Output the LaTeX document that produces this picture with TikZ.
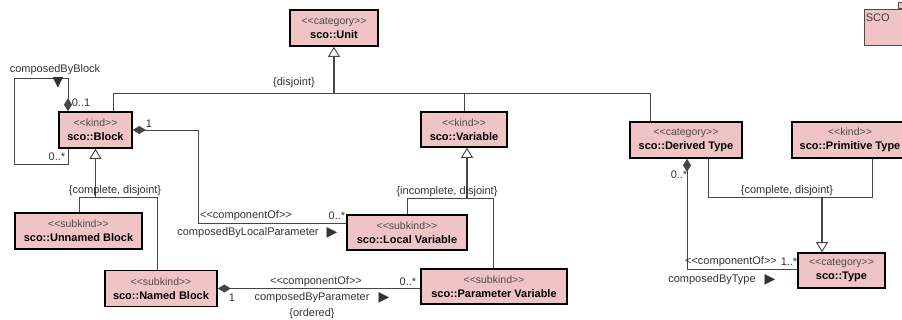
\documentclass[tikz,border=0pt]{standalone}
\usepackage{fontspec}
\setmainfont{Liberation Sans}
\newfontfamily\symfont{DejaVu Sans}
\usetikzlibrary{calc,positioning,arrows.meta}
\definecolor{classfill}{RGB}{240,196,196}
\definecolor{linegray}{RGB}{70,70,70}
\newcommand{\stereo}[1]{{\mdseries\color{black!70}\fontsize{10.5}{12}\selectfont <{}<#1>{}>}}
\newcommand{\dirtri}{{\symfont\fontsize{14}{14}\selectfont ▶}}
\tikzset{
  umlclass/.style={
    draw,
    rectangle,
    fill=classfill,
    line width=1.6pt,
    align=center,
    inner sep=0pt,
    font=\fontsize{11}{14}\selectfont\bfseries,
  },
  pkg/.style={
    draw=black!70,
    rectangle,
    fill=classfill,
    line width=0.6pt,
  },
  conn/.style={draw=linegray, line width=0.8pt},
  gen/.style={conn, line width=1.6pt, -{Triangle[open, width=12pt, length=10pt, line width=0.9pt]}},
  comp/.style={conn, {Diamond[width=8pt, length=13pt]}-},
  lbl/.style={text=black!80, font=\fontsize{11}{13}\selectfont, inner sep=0pt},
}
\begin{document}
\begin{tikzpicture}[x=1pt, y=-1pt]
  \useasboundingbox[fill=white] (0,0) rectangle (902,320);
  \clip (0,0) rectangle (902,320);

  % classes
  \node[umlclass, minimum width=88pt, minimum height=36pt] (unit) at (334,28) {\stereo{category}\\sco::Unit};
  \node[umlclass, minimum width=73pt, minimum height=36pt] (block) at (95.5,130) {\stereo{kind}\\sco::Block};
  \node[umlclass, minimum width=86pt, minimum height=35pt] (variable) at (464,129.5) {\stereo{kind}\\sco::Variable};
  \node[umlclass, minimum width=112pt, minimum height=36pt] (derived) at (686,140) {\stereo{category}\\sco::Derived Type};
  \node[umlclass, minimum width=116pt, minimum height=36pt] (primitive) at (850,140) {\stereo{kind}\\sco::Primitive Type};
  \node[umlclass, minimum width=127pt, minimum height=36pt] (unnamed) at (78.5,231) {\stereo{subkind}\\sco::Unnamed Block};
  \node[umlclass, minimum width=112pt, minimum height=36pt] (named) at (161,288.5) {\stereo{subkind}\\sco::Named Block};
  \node[umlclass, minimum width=120pt, minimum height=35pt] (localvar) at (407,232.5) {\stereo{subkind}\\sco::Local Variable};
  \node[umlclass, minimum width=146pt, minimum height=35pt] (paramvar) at (494,286.5) {\stereo{subkind}\\sco::Parameter Variable};
  \node[umlclass, minimum width=87pt, minimum height=35pt] (type) at (841.5,270.5) {\stereo{category}\\sco::Type};

  % package icon
  \node[pkg, minimum width=48pt, minimum height=36pt] (scopkg) at (888,27) {};
  \node[pkg, minimum width=8pt, minimum height=6pt, anchor=south west] (scotab) at (898,9) {};
  \node[lbl, anchor=north west, text=black!75] (sconame) at (scopkg.north west) [xshift=2pt, yshift=-5pt] {SCO};

  % generalization of sco::Unit
  \coordinate (unitleft) at (113,93);
  \coordinate (unitright) at (650,93);
  \coordinate (unitjoin) at (334,93);
  \draw[conn] (block.north -| unitleft) -- (unitleft) -- (unitright) -- (derived.north -| unitright);
  \draw[conn] (variable.north) -- (variable.north |- unitleft);
  \draw[gen] (unitjoin) -- (unit.south);
  \node[lbl] (unitset) at (294,83) {\{disjoint\}};

  % generalization of sco::Block
  \coordinate (blockleft) at (79,197);
  \coordinate (blockright) at (157,197);
  \coordinate (blockjoin) at (95.5,197);
  \draw[conn] (unnamed.north -| blockleft) -- (blockleft) -- (blockright) -- (named.north -| blockright);
  \draw[gen] (blockjoin) -- (block.south);
  \node[lbl] (blockset) at (115,191) {\{complete, disjoint\}};

  % generalization of sco::Variable
  \coordinate (varleft) at (407,198);
  \coordinate (varright) at (493,198);
  \coordinate (varjoin) at (467,198);
  \draw[conn] (localvar.north -| varleft) -- (varleft) -- (varright) -- (paramvar.north -| varright);
  \draw[gen] (varjoin) -- (variable.south -| varjoin);
  \node[lbl] (varset) at (447,192) {\{incomplete, disjoint\}};

  % generalization of sco::Type
  \coordinate (typeleft) at (708,197);
  \coordinate (typeright) at (872,197);
  \coordinate (typejoin) at (822,197);
  \draw[conn] (derived.south -| typeleft) -- (typeleft) -- (typeright) -- (primitive.south -| typeright);
  \draw[gen] (typejoin) -- (type.north -| typejoin);
  \node[lbl] (typeset) at (787,191) {\{complete, disjoint\}};

  % composedByBlock
  \coordinate (looptop) at (68,78);
  \coordinate (loopbot) at (14,164);
  \draw[comp] (block.north -| looptop) -- (looptop) -| (loopbot) -| (block.south -| looptop);
  \node[lbl] (loopname) at (55,70) {composedByBlock};
  \node[lbl] (loopdir) at (58,83) {{\symfont\fontsize{14}{14}\selectfont ▼}};
  \node[lbl] (loopone) at (81,103) {0..1};
  \node[lbl] (loopmany) at (57,157) {0..*};

  % composedByLocalParameter
  \coordinate (localbend) at (198,223);
  \draw[comp] (block.east) -| (localbend) -- (localvar.west |- localbend);
  \node[lbl] (localone) at (149,124) {1};
  \node[lbl] (localstereo) at (246,216) {<{}<componentOf>{}>};
  \node[lbl] (localmany) at (337,216) {0..*};
  \node[lbl] (localname) at (248,233) {composedByLocalParameter};
  \node[lbl] (localdir) at (332,233) {\dirtri};

  % composedByParameter
  \draw[comp] (named.east) -- (paramvar.west |- named.east);
  \node[lbl] (paramstereo) at (316,282) {<{}<componentOf>{}>};
  \node[lbl] (parammany) at (408,282) {0..*};
  \node[lbl] (paramone) at (232,298) {1};
  \node[lbl] (paramname) at (312,298) {composedByParameter};
  \node[lbl] (paramdir) at (384,298) {\dirtri};
  \node[lbl] (paramorder) at (312,314) {\{ordered\}};

  % composedByType
  \coordinate (typebend) at (687,269);
  \draw[comp] (derived.south -| typebend) -- (typebend) -- (type.west |- typebend);
  \node[lbl] (typemany) at (679,175) {0..*};
  \node[lbl] (typestereo) at (731,262) {<{}<componentOf>{}>};
  \node[lbl] (typeone) at (789,262) {1..*};
  \node[lbl] (typename) at (712,280) {composedByType};
  \node[lbl] (typedir) at (770,280) {\dirtri};
\end{tikzpicture}
\end{document}
